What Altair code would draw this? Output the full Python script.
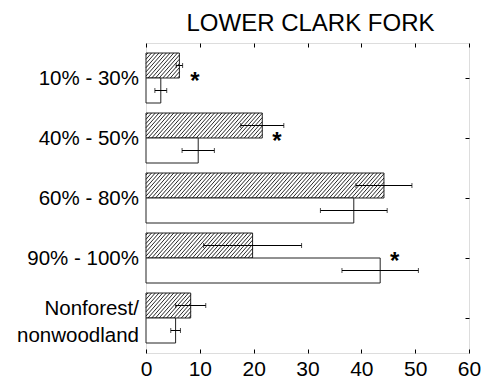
import json
import altair as alt
import pandas as pd

# ---------------- data ----------------
categories = ["10% - 30%", "40% - 50%", "60% - 80%", "90% - 100%", "Nonforest/\nnonwoodland"]
hatched_mean = [6.2, 21.6, 44.2, 19.8, 8.3]
hatched_err = [0.6, 4.0, 5.2, 9.1, 2.8]
open_mean = [2.75, 9.7, 38.6, 43.5, 5.5]
open_err = [1.1, 3.0, 6.2, 7.1, 0.9]
star_x = [9.1, 24.3, None, 46.2, None]
x_ticks = [0, 10, 20, 30, 40, 50, 60]
chart_title = "LOWER CLARK FORK"

# ---------------- layout / style constants ----------------
W, H = 323, 310
FONT = "Liberation Sans"
BAR = 25 / 60            # bar thickness as fraction of a category slot
PAD = 5 / 60             # outer padding of category axis
PX_PER_X = W / 60
HATCH_SPACING = 3.7 / PX_PER_X
HATCH_RUN = 22 / PX_PER_X

rows = []
for i in range(len(categories)):
    for s, m, e, y0, y1 in [
        ("hatched", hatched_mean[i], hatched_err[i], i - BAR, i),
        ("open", open_mean[i], open_err[i], i, i + BAR),
    ]:
        rows.append(dict(cat=i, series=s, zero=0, mean=m, lo=m - e, hi=m + e,
                         y0=y0, y1=y1, ymid=(y0 + y1) / 2))
bars = pd.DataFrame(rows)

hatch_rows = []
for i, m in enumerate(hatched_mean):
    t = -HATCH_RUN + HATCH_SPACING / 2
    while t < m:
        u0 = max(0.0, -t / HATCH_RUN)
        u1 = min(1.0, (m - t) / HATCH_RUN)
        if u1 > u0:
            hatch_rows.append(dict(hx=t + u0 * HATCH_RUN, hx2=t + u1 * HATCH_RUN,
                                   hy=i - u0 * BAR, hy2=i - u1 * BAR))
        t += HATCH_SPACING
hatch = pd.DataFrame(hatch_rows)

stars = pd.DataFrame([dict(sx=x, sy=i) for i, x in enumerate(star_x) if x is not None])

labels_js = json.dumps([c.split("\n") if "\n" in c else c for c in categories])
multi_idx = [i for i, c in enumerate(categories) if "\n" in c]
multi_test = " || ".join(f"datum.value == {i}" for i in multi_idx) or "false"

xscale = alt.Scale(domain=[0, 60], nice=False, zero=True)
yscale = alt.Scale(domain=[-0.5 - PAD, len(categories) - 0.5 + PAD], reverse=True, nice=False, zero=False)

xaxis = alt.Axis(values=x_ticks, format="d", title=None, domain=False, ticks=False, tickSize=0,
                 grid=True, gridDash=[4, H - 8, 4], gridColor="black", gridOpacity=1, gridWidth=1,
                 labelFontSize=21, labelFont=FONT, labelColor="black", labelPadding=5,
                 labelFlush=False, labelOverlap=False)
yaxis = alt.Axis(values=list(range(len(categories))), labelExpr=f"{labels_js}[datum.value]",
                 title=None, domain=False, ticks=False, tickSize=0,
                 grid=True, gridDash=[0, W - 4, 4], gridColor="black", gridOpacity=1, gridWidth=1,
                 labelFontSize=20.5, labelFont=FONT, labelColor="black", labelPadding=7.5,
                 labelLineHeight=27, labelOverlap=False, labelFlush=False, labelAlign="right",
                 labelBaseline="middle",
                 labelOffset={"condition": {"test": multi_test, "value": -10}, "value": 0})


def X(f):
    return alt.X(f, type="quantitative", scale=xscale, axis=xaxis)


def Y(f):
    return alt.Y(f, type="quantitative", scale=yscale, axis=yaxis)


bar_layer = alt.Chart(bars).mark_rect(fill="white", stroke="#222", strokeWidth=1).encode(
    x=X("zero"), x2="mean", y=Y("y0"), y2="y1"
)

hatch_layer = alt.Chart(hatch).mark_rule(color="#111", strokeWidth=0.9).encode(
    x=X("hx"), x2="hx2", y=Y("hy"), y2="hy2"
)

err_layer = alt.Chart(bars).mark_rule(color="black", strokeWidth=1).encode(
    x=X("lo"), x2="hi", y=Y("ymid")
)

cap_layer = alt.Chart(bars).transform_fold(["lo", "hi"], as_=["end", "cx"]).mark_tick(
    orient="vertical", size=5, thickness=1, color="black"
).encode(x=X("cx"), y=Y("ymid"))

star_layer = alt.Chart(stars).mark_text(
    text="*", fontSize=24, fontWeight="bold", font=FONT, color="black",
    align="center", baseline="alphabetic", dy=11
).encode(x=X("sx"), y=Y("sy"))

title_layer = alt.Chart(pd.DataFrame({"t": [chart_title]})).mark_text(
    fontSize=24, font=FONT, fontWeight="normal", color="black",
    align="center", baseline="alphabetic"
).encode(text="t:N", x=alt.value(W / 2 + 3), y=alt.value(-12))

chart = alt.layer(bar_layer, hatch_layer, err_layer, cap_layer, star_layer, title_layer).properties(
    width=W, height=H,
    autosize=alt.AutoSizeParams(type="none"),
    padding={"left": 138, "top": 35, "right": 15, "bottom": 25},
).configure_view(stroke="black", strokeWidth=1.2).configure(background="white")

chart.save("out.html", embed_options={"renderer": "svg", "actions": False})
